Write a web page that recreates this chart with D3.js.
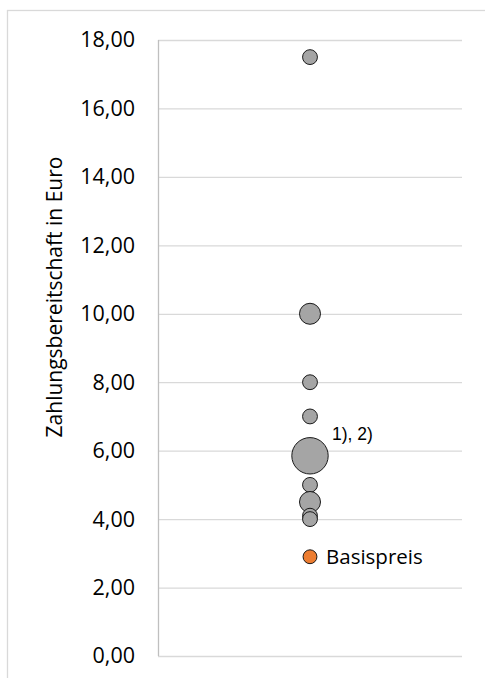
<!DOCTYPE html>
<html><head><meta charset="utf-8">
<script src="https://cdn.jsdelivr.net/npm/d3@7"></script>
<style>body{margin:0;background:#fff}svg{display:block}</style>
</head><body>
<svg id="c" width="485" height="678"></svg>
<script>
const category = ["Produkt"];
const wtpValues = [17.5, 10, 8, 7, 5.85, 5, 4.5, 4.1, 4.0];
const wtpCounts = [1, 2, 1, 1, 6, 1, 2, 1, 1];
const baseValue = [2.9];
const baseCount = [1];
const baseLabel = "Basispreis";
const noteLabel = "1), 2)";
const noteIndex = 4;
const yTicks = [0, 2, 4, 6, 8, 10, 12, 14, 16, 18];
const yTitle = "Zahlungsbereitschaft in Euro";

const svg = d3.select("#c");
const L = 158, R = 462, T = 40, B = 656;
svg.append("rect").attr("x", 7.5).attr("y", 10.5).attr("width", 600).attr("height", 800)
  .attr("fill", "none").attr("stroke", "#D9D9D9").attr("stroke-width", 1.3);

const y = d3.scaleLinear().domain([0, 18]).range([B, T]);
const x = d3.scalePoint().domain(category).range([L, R]).padding(0.5);
const r = d3.scaleSqrt().domain([0, 6]).range([0, 18.2]);

const fmt = v => d3.format(".2f")(v).replace(".", ",");
const yAxis = d3.axisLeft(y).tickValues(yTicks).tickFormat(fmt).tickSize(-(R - L)).tickPadding(23);
const g = svg.append("g").attr("transform", `translate(${L},0)`).call(yAxis);
g.select(".domain").remove();
g.attr("font-size", null).attr("font-family", null);
g.selectAll(".tick line").attr("stroke", "#D9D9D9").attr("stroke-width", 1.3);
g.selectAll(".tick text").attr("fill", "#000").style("font-family", "Open Sans")
  .style("font-size", "21.5px");
svg.append("line").attr("x1", L + 0.5).attr("x2", L + 0.5).attr("y1", T).attr("y2", B)
  .attr("stroke", "#BFBFBF").attr("stroke-width", 1.3);

svg.append("text").attr("transform", `translate(62,297) rotate(-90)`)
  .attr("text-anchor", "middle").style("font-family", "Open Sans").style("font-size", "21px")
  .attr("fill", "#000").text(yTitle);

const cx = x(category[0]);
const data = wtpValues.map((v, i) => ({v, n: wtpCounts[i]}));
svg.append("g").selectAll("circle").data(data).join("circle")
  .attr("cx", cx).attr("cy", d => y(d.v)).attr("r", d => r(d.n))
  .attr("fill", "#A5A5A5").attr("stroke", "#1a1a1a").attr("stroke-width", 1);

svg.append("g").selectAll("circle").data(baseValue).join("circle")
  .attr("cx", cx).attr("cy", d => y(d)).attr("r", (d, i) => r(baseCount[i]) - 0.5)
  .attr("fill", "#ED7D31").attr("stroke", "#1a1a1a").attr("stroke-width", 1);

svg.append("text").attr("x", cx + 16).attr("y", y(baseValue[0]))
  .attr("dy", "0.35em").style("font-family", "Open Sans").style("font-size", "20.5px")
  .attr("fill", "#000").text(baseLabel);

svg.append("text").attr("x", cx + 22).attr("y", y(wtpValues[noteIndex]) - 16)
  .style("font-family", "Liberation Sans").style("font-size", "17.5px")
  .attr("fill", "#000").text(noteLabel);
</script>
</body></html>
